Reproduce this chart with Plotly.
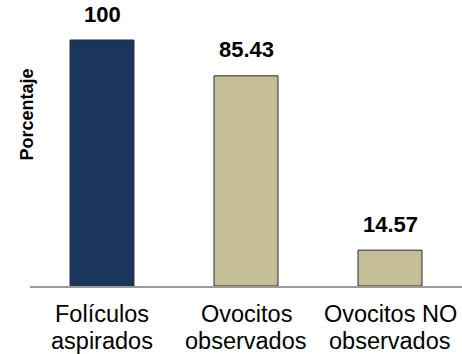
import plotly.graph_objects as go

categories = ["Folículos aspirados", "Ovocitos observados", "Ovocitos NO observados"]
label_lines = [("Folículos", "aspirados"), ("Ovocitos", "observados"), ("Ovocitos NO", "observados")]
values = [100, 85.43, 14.57]
value_labels = ["100", "85.43", "14.57"]
bar_colors = ["#1B365D", "#C4BD97", "#C4BD97"]

FONT = "Liberation Sans, Arial, sans-serif"

fig = go.Figure(
    go.Bar(
        x=categories,
        y=values,
        marker=dict(color=bar_colors, line=dict(color="#2b2b2b", width=1)),
        width=0.444,
        hoverinfo="skip",
    )
)

# value labels above each bar
for cat, val, lab in zip(categories, values, value_labels):
    fig.add_annotation(
        x=cat, y=val, text=f"<b>{lab}</b>", showarrow=False,
        yanchor="middle", yshift=26,
        font=dict(family=FONT, size=22, color="#000000"),
    )

# two-line category labels under the axis
for cat, (l1, l2) in zip(categories, label_lines):
    for txt, shift in ((l1, -28), (l2, -55)):
        fig.add_annotation(
            x=cat, xref="x", y=0, yref="paper", text=txt, showarrow=False,
            yanchor="middle", yshift=shift,
            font=dict(family=FONT, size=23.5, color="#000000"),
        )

# rotated y-axis title
fig.add_annotation(
    xref="paper", yref="paper", x=-0.008, y=0.598,
    text="<b>Porcentaje</b>", textangle=-90, showarrow=False,
    xanchor="center", yanchor="middle",
    font=dict(family=FONT, size=18, color="#000000"),
)

fig.update_layout(
    width=462, height=354,
    margin=dict(l=30, r=0, t=0, b=68),
    paper_bgcolor="white", plot_bgcolor="white",
    showlegend=False,
    font=dict(family=FONT, color="#000000"),
)
fig.update_xaxes(
    range=[-0.5, 2.5],
    showline=True, linecolor="#9a9a9a", linewidth=2,
    showgrid=False, zeroline=False, ticks="", showticklabels=False,
)
fig.update_yaxes(
    range=[0, 116.26],
    visible=False,
)

fig.write_html("out.html")
